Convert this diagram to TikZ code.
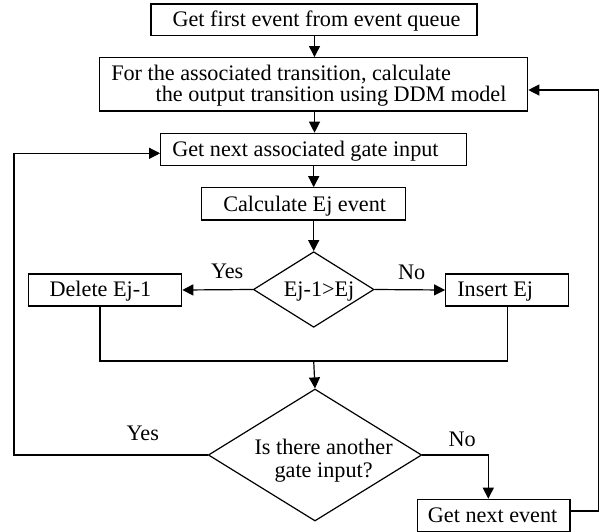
\documentclass[tikz,border=0pt]{standalone}
\usepackage{fontspec}
\setmainfont{Liberation Serif}
\usetikzlibrary{arrows.meta,shapes.geometric}
\begin{document}
\begin{tikzpicture}[x=1pt,y=-1pt,
  line width=1.2pt,
  box/.style={draw,rectangle,inner sep=0pt,minimum width=#1},
  dia/.style={draw,diamond,inner sep=0pt},
  txt/.style={anchor=base west,inner sep=0pt,font=\fontsize{22.2}{22}\selectfont},
  arr/.style={-{Triangle[length=11pt,width=11pt]}}]
\useasboundingbox (0,0) rectangle (600,531);
% boxes
\node[box=326,minimum height=31.7pt] (b1) at (314,19.9) {};
\node[box=428.4,minimum height=53.3pt] (b2) at (313.5,84.3) {};
\node[box=306,minimum height=32.4pt] (b3) at (313.7,149.5) {};
\node[box=204,minimum height=32.3pt] (b4) at (303.7,203.9) {};
\node[dia,minimum width=120.7pt,minimum height=75.6pt] (d1) at (313.7,289.5) {};
\node[box=153.4,minimum height=32pt] (del) at (105,290) {};
\node[box=122.6,minimum height=32pt] (ins) at (507,290) {};
\node[dia,minimum width=213.4pt,minimum height=132pt] (d2) at (315,455) {};
\node[box=152.7,minimum height=32pt] (gne) at (493.7,515.3) {};
% texts
\node[txt] (t1) at (172,26.7) {Get first event from event queue};
\node[txt] (t2a) at (110.7,80) {For the associated transition, calculate};
\node[txt] (t2b) at (155,101.7) {the output transition using DDM model};
\node[txt] (t3) at (171.7,156.7) {Get next associated gate input};
\node[txt] (t4) at (222.7,211) {Calculate Ej event};
\node[txt] (t5) at (283.3,296.3) {Ej-1>Ej};
\node[txt] (t6) at (49,296.5) {Delete Ej-1};
\node[txt] (t7) at (456.7,296.5) {Insert Ej};
\node[txt] (t8) at (254,454) {Is there another};
\node[txt] (t9) at (274,477.5) {gate input?};
\node[txt] (t10) at (427.3,522.7) {Get next event};
\node[txt] (y1) at (210.4,278.2) {Yes};
\node[txt] (n1) at (397.5,279) {No};
\node[txt] (y2) at (126,440.7) {Yes};
\node[txt] (n2) at (448,446.7) {No};
% connector coordinates
\coordinate (j1) at (100,361);
\coordinate (j2) at (507.3,361);
\coordinate (jm) at (313.7,361);
\coordinate (L1) at (14,455);
\coordinate (L2) at (14,153.3);
\coordinate (c1) at (488.3,455);
\coordinate (r1) at (598.3,511);
\coordinate (r2) at (598.3,90);
% connectors
\draw[arr] (b1.south -| 314.5,0) -- (b2.north -| 314.5,0);
\draw[arr] (b2.south -| 314.5,0) -- (b3.north -| 314.5,0);
\draw[arr] (b3.south -| 313.7,0) -- (b4.north -| 313.7,0);
\draw[arr] (b4.south -| d1.north) -- (d1.north);
\draw[arr] (d1.west) -- (del.east);
\draw[arr] (d1.east) -- (ins.west);
\draw (del.south -| j1) -- (j1) -- (j2) -- (ins.south -| j2);
\draw[arr] (jm) -- (d2.north);
\draw[arr] (d2.west) -- (L1) -- (L2) -- (b3.west |- L2);
\draw[arr] (d2.east) -- (c1) -- (c1 |- gne.north);
\draw[arr] (gne.east |- r1) -- (r1) -- (r2) -- (b2.east |- r2);
\end{tikzpicture}
\end{document}
